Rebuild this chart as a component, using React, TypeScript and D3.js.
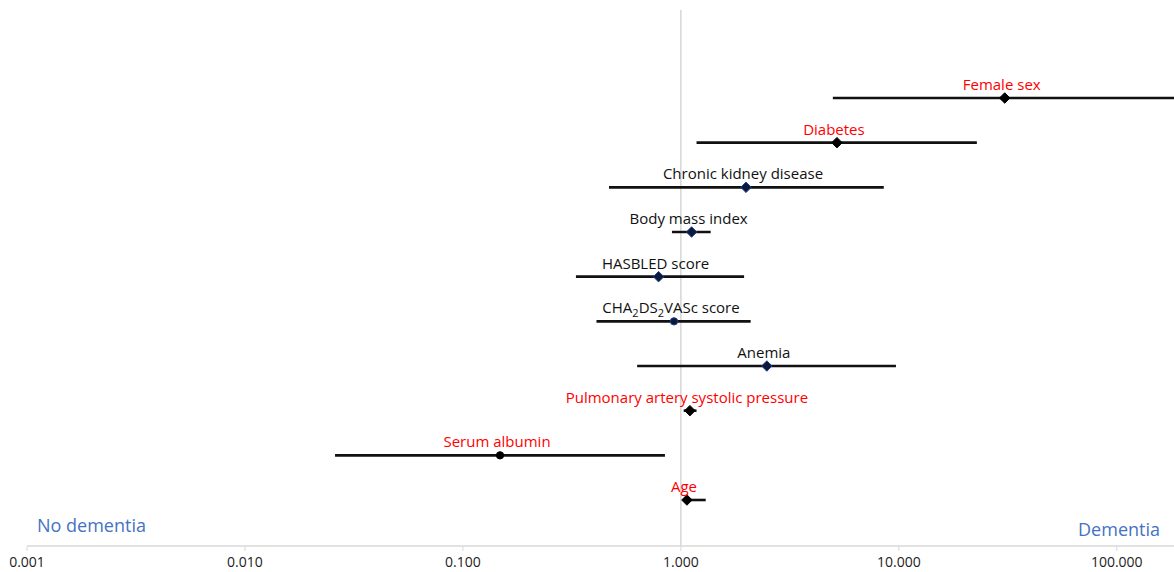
import * as d3 from 'd3';
import React, { useRef, useEffect } from 'react';

// forest plot rows, top to bottom
const factors = ['Female sex', 'Diabetes', 'Chronic kidney disease', 'Body mass index', 'HASBLED score',
    'CHA2DS2VASc score', 'Anemia', 'Pulmonary artery systolic pressure', 'Serum albumin', 'Age'];
const estimates = [30.6, 5.2, 1.99, 1.12, 0.79, 0.93, 2.48, 1.1, 0.148, 1.066];
const lowerCI = [4.98, 1.18, 0.468, 0.91, 0.33, 0.41, 0.63, 1.03, 0.0259, 1.04];
const upperCI = [300, 22.8, 8.53, 1.37, 1.95, 2.09, 9.7, 1.18, 0.845, 1.3];
const significant = [true, true, false, false, false, false, false, true, true, true];
const markerShape = ['diamond', 'diamond', 'diamond', 'diamond', 'diamond', 'circle', 'diamond', 'diamond', 'circle', 'diamond'];
const tickValues = [0.001, 0.01, 0.1, 1, 10, 100];
const tickLabels = ['0.001', '0.010', '0.100', '1.000', '10.000', '100.000'];

const width = 1174;
const height = 572;

function App() {
    const ref = useRef(null);
    var font = "'Open Sans', 'Liberation Sans', sans-serif";

    useEffect(() => {
        draw();
    });

    const draw = () => {
        const svg = d3.select(ref.current)
            .attr('width', width)
            .attr('height', height);
        svg.selectAll('*').remove();

        var data = factors.map((f, i) => ({
            name: f, est: estimates[i], lo: lowerCI[i], hi: upperCI[i],
            sig: significant[i], shape: markerShape[i]
        }));

        var x = d3.scaleLog()
            .domain([0.001, 183])
            .range([27, 1174]);

        var y = d3.scalePoint()
            .domain(factors)
            .range([98, 500]);

        // reference line at 1
        svg.append('line')
            .attr('x1', x(1)).attr('x2', x(1))
            .attr('y1', 10).attr('y2', 546)
            .attr('stroke', '#d0d0d0').attr('stroke-width', 1.3);

        // x axis
        var axis = svg.append('g').attr('transform', 'translate(0,546)');
        axis.append('line')
            .attr('x1', 27).attr('x2', width)
            .attr('stroke', '#d9d9d9').attr('stroke-width', 1.3);
        axis.selectAll('.tick')
            .data(tickValues)
            .enter()
            .append('line')
            .attr('x1', d => x(d)).attr('x2', d => x(d))
            .attr('y1', 0).attr('y2', 5)
            .attr('stroke', '#d9d9d9');
        axis.selectAll('text')
            .data(tickValues)
            .enter()
            .append('text')
            .attr('x', d => x(d))
            .attr('y', 21)
            .attr('text-anchor', 'middle')
            .style('font-family', font)
            .style('font-size', '14px')
            .attr('fill', '#222')
            .text((d, i) => tickLabels[i]);

        var rows = svg.append('g');

        rows.selectAll('line')
            .data(data)
            .enter()
            .append('line')
            .attr('x1', d => x(d.lo))
            .attr('x2', d => Math.min(x(d.hi), width))
            .attr('y1', d => y(d.name))
            .attr('y2', d => y(d.name))
            .attr('stroke', '#111')
            .attr('stroke-width', 2.6);

        rows.selectAll('path')
            .data(data)
            .enter()
            .append('path')
            .attr('transform', d => `translate(${x(d.est)},${y(d.name)})`)
            .attr('d', d => d.shape === 'circle'
                ? d3.symbol(d3.symbolCircle, 42)()
                : d3.symbol(d3.symbolDiamond2, 70)())
            .attr('fill', d => d.sig ? '#000' : '#0b1a3a')
            .attr('stroke', d => d.sig ? '#000' : '#1f3f8f')
            .attr('stroke-width', 1);

        var labels = rows.selectAll('text')
            .data(data)
            .enter()
            .append('text')
            .attr('x', d => x(d.est) - 3)
            .attr('y', d => y(d.name) - 8)
            .attr('text-anchor', 'middle')
            .style('font-family', font)
            .style('font-size', '15px')
            .attr('fill', d => d.sig ? '#ff0000' : '#111');

        labels.each(function (d) {
            var t = d3.select(this);
            if (d.name === 'CHA2DS2VASc score') {
                t.append('tspan').text('CHA');
                t.append('tspan').text('2').attr('dy', 4).style('font-size', '11px');
                t.append('tspan').text('DS').attr('dy', -4);
                t.append('tspan').text('2').attr('dy', 4).style('font-size', '11px');
                t.append('tspan').text('VASc score').attr('dy', -4);
            } else {
                t.text(d.name);
            }
        });

        svg.append('text')
            .attr('x', 37).attr('y', 532)
            .style('font-family', font)
            .style('font-size', '18px')
            .attr('fill', '#4472c4')
            .text('No dementia');

        svg.append('text')
            .attr('x', 1160).attr('y', 536)
            .attr('text-anchor', 'end')
            .style('font-family', font)
            .style('font-size', '18px')
            .attr('fill', '#4472c4')
            .text('Dementia');
    };

    return (
        <div className="chart" style={{ position: 'absolute', left: 0, top: 0 }}>
            <svg ref={ref} style={{ display: 'block' }}>
            </svg>
        </div>
    );
}

export default App;
